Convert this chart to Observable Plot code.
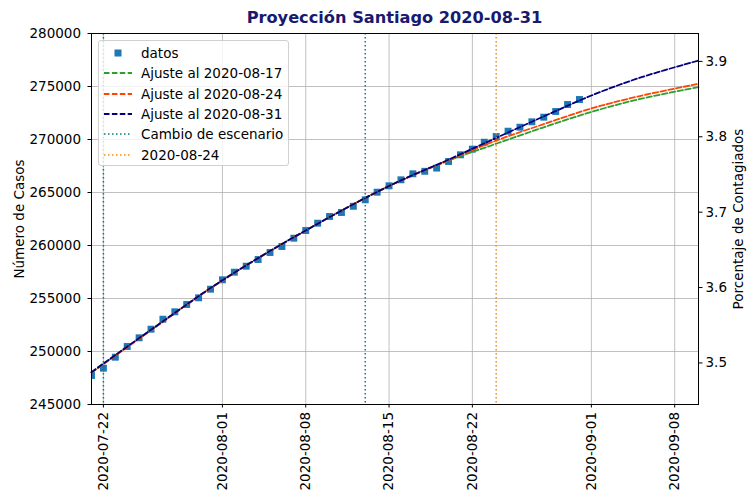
<!DOCTYPE html>
<html>
<head>
<meta charset="utf-8">
<script src="https://cdn.jsdelivr.net/npm/d3@7"></script>
<script src="https://cdn.jsdelivr.net/npm/@observablehq/plot@0.6"></script>
<style>
  body { margin: 0; background: #fff; font-family: "DejaVu Sans", sans-serif; }
  #wrap { position: relative; width: 748px; height: 492px; overflow: hidden; background: #fff; }
  #title { position: absolute; left: 91px; width: 607px; top: 8px; text-align: center;
           font-weight: bold; font-size: 16.2px; color: #191970; font-family: "DejaVu Sans", sans-serif; }
  #legend { position: absolute; left: 98px; top: 40px; width: 191px; height: 126px;
            background: rgba(255,255,255,0.8); border: 1px solid #d0d0d0; border-radius: 3px;
            box-sizing: border-box; font-size: 13.5px; font-family: "DejaVu Sans", sans-serif; color: #000; }
  .row { position: absolute; left: 0; height: 20px; width: 100%; }
  .row svg { position: absolute; left: 4px; top: 5px; }
  .row span { position: absolute; left: 42px; top: 1px; white-space: nowrap; line-height: 18px; }
</style>
</head>
<body>
<div id="wrap">
  <div id="chart"></div>
  <div id="title">Proyección Santiago 2020-08-31</div>
  <div id="legend"></div>
</div>
<script>
// ---- data ----
const dataDates = ["2020-07-21","2020-07-22","2020-07-23","2020-07-24","2020-07-25","2020-07-26","2020-07-27",
  "2020-07-28","2020-07-29","2020-07-30","2020-07-31","2020-08-01","2020-08-02","2020-08-03","2020-08-04",
  "2020-08-05","2020-08-06","2020-08-07","2020-08-08","2020-08-09","2020-08-10","2020-08-11","2020-08-12",
  "2020-08-13","2020-08-14","2020-08-15","2020-08-16","2020-08-17","2020-08-18","2020-08-19","2020-08-20",
  "2020-08-21","2020-08-22","2020-08-23","2020-08-24","2020-08-25","2020-08-26","2020-08-27","2020-08-28",
  "2020-08-29","2020-08-30","2020-08-31"];
const dataCases = [247736,248425,249462,250472,251292,252104,253047,
  253745,254434,255066,255877,256764,257481,258047,258679,
  259340,259906,260689,261415,262104,262736,263113,263700,
  264311,265028,265632,266198,266764,267000,267302,267925,
  268557,269090,269745,270283,270783,271160,271670,272104,
  272642,273302,273774];

const fitDates = ["2020-07-21","2020-07-26","2020-08-01","2020-08-08","2020-08-15","2020-08-20",
  "2020-08-24","2020-08-28","2020-09-01","2020-09-05","2020-09-10"];
const fit0817 = [248050,252050,256720,261420,265613,268000,269600,271150,272600,273800,274934];
const fit0824 = [247990,252000,256700,261420,265613,268050,269900,271450,272930,274080,275255];
const fit0831 = [248050,252050,256720,261420,265613,268100,270150,272180,274150,275800,277450];

const scenarioDates = ["2020-07-22","2020-08-13"];
const cutDates = ["2020-08-24"];

const xTickLabels = ["2020-07-22","2020-08-01","2020-08-08","2020-08-15","2020-08-22","2020-09-01","2020-09-08"];
const yTicks = [245000,250000,255000,260000,265000,270000,275000,280000];
const pctTicks = [3.5,3.6,3.7,3.8,3.9];
const casesPerPercent = 71120;
const xDomain = ["2020-07-21","2020-09-10"];
const yDomain = [245000,280000];

// ---- build ----
const parse = d3.utcParse("%Y-%m-%d");
const points = dataDates.map((d,i) => ({date: parse(d), cases: dataCases[i]}));
const fitRows = (vals) => fitDates.map((d,i) => ({date: parse(d), cases: vals[i]}));
const xTicks = xTickLabels.map(parse);

const dash = "5.5,2.4";
const dot = "1.5,2.5";
const C = {green: "#2ca02c", red: "#ff4500", navy: "#000080", teal: "#008080", orange: "#ff8c00", pts: "#1f77b4"};

const chart = Plot.plot({
  width: 748, height: 492,
  marginLeft: 91, marginRight: 50, marginTop: 33, marginBottom: 88,
  style: {fontFamily: "DejaVu Sans", fontSize: "13.5px", color: "#000", background: "transparent"},
  x: {type: "utc", domain: xDomain.map(parse)},
  y: {domain: yDomain},
  marks: [
    Plot.gridY(yTicks, {stroke: "#b0b0b0", strokeOpacity: 1, strokeWidth: 0.8}),
    Plot.gridX(xTicks, {stroke: "#b0b0b0", strokeOpacity: 1, strokeWidth: 0.8}),
    Plot.dot(points, {x: "date", y: "cases", symbol: "square", r: 3.9, fill: C.pts, stroke: "none", clip: true}),
    Plot.line(fitRows(fit0817), {x: "date", y: "cases", stroke: C.green, strokeWidth: 1.8, strokeDasharray: dash, curve: "catmull-rom"}),
    Plot.line(fitRows(fit0824), {x: "date", y: "cases", stroke: C.red, strokeWidth: 1.8, strokeDasharray: dash, curve: "catmull-rom"}),
    Plot.line(fitRows(fit0831), {x: "date", y: "cases", stroke: C.navy, strokeWidth: 1.8, strokeDasharray: dash, curve: "catmull-rom"}),
    Plot.ruleX(scenarioDates.map(parse), {stroke: C.teal, strokeWidth: 1.5, strokeDasharray: dot}),
    Plot.ruleX(cutDates.map(parse), {stroke: C.orange, strokeWidth: 1.5, strokeDasharray: dot}),
    Plot.axisY({anchor: "left", ticks: yTicks, tickFormat: d3.format("d"), tickSize: 3.5, tickPadding: 7,
      label: "Número de Casos", labelAnchor: "center", labelArrow: "none", labelOffset: 77}),
    Plot.axisY({anchor: "right", ticks: pctTicks.map(p => p * casesPerPercent),
      tickFormat: d => (d / casesPerPercent).toFixed(1), tickSize: 3.5, tickPadding: 3.5,
      label: "Porcentaje de Contagiados", labelAnchor: "center", labelArrow: "none", labelOffset: 44}),
    Plot.axisX({ticks: xTicks, tickFormat: d3.utcFormat("%Y-%m-%d"), tickRotate: -90, tickSize: 3.5, tickPadding: 4, label: null}),
    Plot.frame({stroke: "#000", strokeWidth: 1})
  ]
});
document.getElementById("chart").appendChild(chart);

// ---- legend ----
const legendItems = [
  {label: "datos", kind: "square", color: C.pts},
  {label: "Ajuste al 2020-08-17", kind: "line", color: C.green, dash},
  {label: "Ajuste al 2020-08-24", kind: "line", color: C.red, dash},
  {label: "Ajuste al 2020-08-31", kind: "line", color: C.navy, dash},
  {label: "Cambio de escenario", kind: "line", color: C.teal, dash: dot},
  {label: "2020-08-24", kind: "line", color: C.orange, dash: dot}
];
const lg = document.getElementById("legend");
legendItems.forEach((it, i) => {
  const row = document.createElement("div");
  row.className = "row";
  row.style.top = (2 + i * 20.3) + "px";
  const ns = "http://www.w3.org/2000/svg";
  const s = document.createElementNS(ns, "svg");
  s.setAttribute("width", 30); s.setAttribute("height", 10);
  if (it.kind === "square") {
    const r = document.createElementNS(ns, "rect");
    r.setAttribute("x", 11.5); r.setAttribute("y", 1.5); r.setAttribute("width", 7); r.setAttribute("height", 7);
    r.setAttribute("fill", it.color);
    s.appendChild(r);
  } else {
    const l = document.createElementNS(ns, "line");
    l.setAttribute("x1", 1); l.setAttribute("x2", 29); l.setAttribute("y1", 5); l.setAttribute("y2", 5);
    l.setAttribute("stroke", it.color); l.setAttribute("stroke-width", it.dash === dot ? 1.5 : 1.8);
    l.setAttribute("stroke-dasharray", it.dash);
    s.appendChild(l);
  }
  row.appendChild(s);
  const t = document.createElement("span");
  t.textContent = it.label;
  row.appendChild(t);
  lg.appendChild(row);
});
</script>
</body>
</html>
